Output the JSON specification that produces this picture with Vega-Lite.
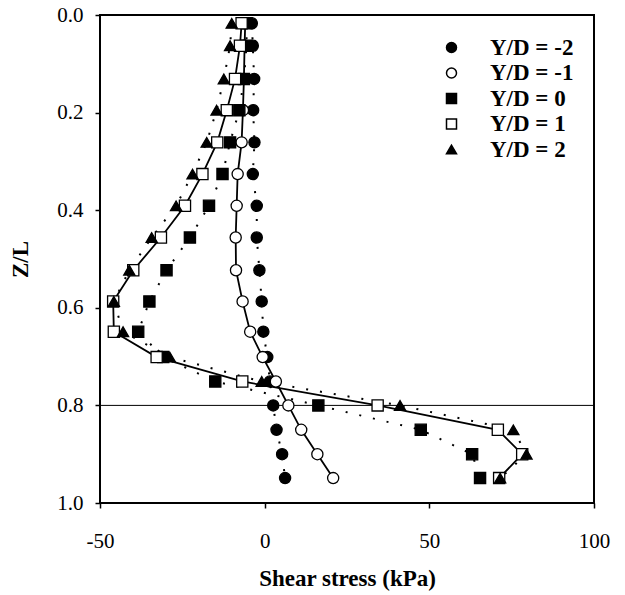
{
  "$schema": "https://vega.github.io/schema/vega-lite/v6.json",
  "width": 494,
  "height": 488,
  "autosize": {"type": "none"},
  "padding": {"left": 100, "top": 15, "right": 31, "bottom": 92},
  "background": "white",
  "config": {
    "view": {"stroke": "#000", "strokeWidth": 2},
    "font": "Liberation Serif",
    "axis": {
      "domain": false,
      "grid": false,
      "labelFlush": false,
      "tickColor": "#000",
      "tickSize": 5,
      "tickWidth": 1.5,
      "labelFont": "Liberation Serif",
      "labelFontSize": 21,
      "labelColor": "#000",
      "titleFont": "Liberation Serif",
      "titleFontSize": 23,
      "titleFontWeight": "bold",
      "titleColor": "#000"
    },
    "legend": {
      "labelFont": "Liberation Serif",
      "labelFontSize": 23,
      "labelFontWeight": "bold",
      "labelColor": "#000"
    }
  },
  "data": {
    "values": [
      {"s": "Y/D = -2", "z": 0.017, "x": -3.9}, {"s": "Y/D = -2", "z": 0.063, "x": -3.6}, {"s": "Y/D = -2", "z": 0.131, "x": -3.2}, {"s": "Y/D = -2", "z": 0.195, "x": -3.5}, {"s": "Y/D = -2", "z": 0.261, "x": -3.1}, {"s": "Y/D = -2", "z": 0.326, "x": -3.6}, {"s": "Y/D = -2", "z": 0.391, "x": -2.4}, {"s": "Y/D = -2", "z": 0.456, "x": -2.4}, {"s": "Y/D = -2", "z": 0.523, "x": -1.6}, {"s": "Y/D = -2", "z": 0.587, "x": -0.9}, {"s": "Y/D = -2", "z": 0.649, "x": -0.4}, {"s": "Y/D = -2", "z": 0.701, "x": 0.8}, {"s": "Y/D = -2", "z": 0.751, "x": 1.6}, {"s": "Y/D = -2", "z": 0.8, "x": 2.6}, {"s": "Y/D = -2", "z": 0.85, "x": 3.6}, {"s": "Y/D = -2", "z": 0.9, "x": 5.3}, {"s": "Y/D = -2", "z": 0.949, "x": 6.2},
      {"s": "Y/D = -1", "z": 0.017, "x": -5.9}, {"s": "Y/D = -1", "z": 0.063, "x": -6.1}, {"s": "Y/D = -1", "z": 0.131, "x": -6.3}, {"s": "Y/D = -1", "z": 0.195, "x": -6.6}, {"s": "Y/D = -1", "z": 0.261, "x": -7.0}, {"s": "Y/D = -1", "z": 0.326, "x": -8.2}, {"s": "Y/D = -1", "z": 0.391, "x": -8.5}, {"s": "Y/D = -1", "z": 0.456, "x": -8.8}, {"s": "Y/D = -1", "z": 0.523, "x": -8.7}, {"s": "Y/D = -1", "z": 0.587, "x": -6.7}, {"s": "Y/D = -1", "z": 0.649, "x": -4.4}, {"s": "Y/D = -1", "z": 0.701, "x": -0.6}, {"s": "Y/D = -1", "z": 0.751, "x": 3.4}, {"s": "Y/D = -1", "z": 0.8, "x": 7.2}, {"s": "Y/D = -1", "z": 0.85, "x": 11.1}, {"s": "Y/D = -1", "z": 0.9, "x": 16.0}, {"s": "Y/D = -1", "z": 0.949, "x": 20.8},
      {"s": "Y/D = 0", "z": 0.017, "x": -5.5}, {"s": "Y/D = 0", "z": 0.063, "x": -5.5}, {"s": "Y/D = 0", "z": 0.131, "x": -6.3}, {"s": "Y/D = 0", "z": 0.195, "x": -7.7}, {"s": "Y/D = 0", "z": 0.261, "x": -10.5}, {"s": "Y/D = 0", "z": 0.326, "x": -12.8}, {"s": "Y/D = 0", "z": 0.391, "x": -16.9}, {"s": "Y/D = 0", "z": 0.456, "x": -22.7}, {"s": "Y/D = 0", "z": 0.523, "x": -29.8}, {"s": "Y/D = 0", "z": 0.587, "x": -35.0}, {"s": "Y/D = 0", "z": 0.649, "x": -38.4}, {"s": "Y/D = 0", "z": 0.701, "x": -30.8}, {"s": "Y/D = 0", "z": 0.751, "x": -15.0}, {"s": "Y/D = 0", "z": 0.8, "x": 16.3}, {"s": "Y/D = 0", "z": 0.85, "x": 47.4}, {"s": "Y/D = 0", "z": 0.9, "x": 63.0}, {"s": "Y/D = 0", "z": 0.949, "x": 65.4},
      {"s": "Y/D = 1", "z": 0.017, "x": -7.0}, {"s": "Y/D = 1", "z": 0.063, "x": -7.5}, {"s": "Y/D = 1", "z": 0.131, "x": -9.0}, {"s": "Y/D = 1", "z": 0.195, "x": -11.5}, {"s": "Y/D = 1", "z": 0.261, "x": -14.4}, {"s": "Y/D = 1", "z": 0.326, "x": -18.9}, {"s": "Y/D = 1", "z": 0.391, "x": -24.2}, {"s": "Y/D = 1", "z": 0.456, "x": -31.5}, {"s": "Y/D = 1", "z": 0.523, "x": -39.9}, {"s": "Y/D = 1", "z": 0.587, "x": -46.0}, {"s": "Y/D = 1", "z": 0.649, "x": -45.8}, {"s": "Y/D = 1", "z": 0.701, "x": -32.8}, {"s": "Y/D = 1", "z": 0.751, "x": -6.8}, {"s": "Y/D = 1", "z": 0.8, "x": 34.3}, {"s": "Y/D = 1", "z": 0.85, "x": 70.8}, {"s": "Y/D = 1", "z": 0.9, "x": 78.2}, {"s": "Y/D = 1", "z": 0.949, "x": 71.2},
      {"s": "Y/D = 2", "z": 0.017, "x": -10.0}, {"s": "Y/D = 2", "z": 0.063, "x": -10.5}, {"s": "Y/D = 2", "z": 0.131, "x": -12.4}, {"s": "Y/D = 2", "z": 0.195, "x": -14.6}, {"s": "Y/D = 2", "z": 0.261, "x": -17.6}, {"s": "Y/D = 2", "z": 0.326, "x": -21.9}, {"s": "Y/D = 2", "z": 0.391, "x": -26.9}, {"s": "Y/D = 2", "z": 0.456, "x": -34.3}, {"s": "Y/D = 2", "z": 0.523, "x": -41.1}, {"s": "Y/D = 2", "z": 0.587, "x": -45.8}, {"s": "Y/D = 2", "z": 0.649, "x": -43.0}, {"s": "Y/D = 2", "z": 0.701, "x": -28.8}, {"s": "Y/D = 2", "z": 0.751, "x": -0.9}, {"s": "Y/D = 2", "z": 0.8, "x": 41.1}, {"s": "Y/D = 2", "z": 0.85, "x": 75.5}, {"s": "Y/D = 2", "z": 0.9, "x": 79.5}, {"s": "Y/D = 2", "z": 0.949, "x": 71.5}
    ]
  },
  "layer": [
    {
      "mark": {"type": "rule", "color": "#000", "strokeWidth": 1},
      "data": {"values": [{"z": 0.8}]},
      "encoding": {
        "y": {"field": "z", "type": "quantitative", "scale": {"domain": [0, 1], "reverse": true, "nice": false}}
      }
    },
    {
      "transform": [{"filter": "datum.s == 'Y/D = -2' || datum.s == 'Y/D = 0' || datum.s == 'Y/D = 2'"}],
      "mark": {"type": "line", "color": "#000", "strokeWidth": 2, "strokeDash": [2, 12]},
      "encoding": {
        "x": {"field": "x", "type": "quantitative"},
        "y": {"field": "z", "type": "quantitative"},
        "order": {"field": "z", "type": "quantitative"},
        "detail": {"field": "s", "type": "nominal"}
      }
    },
    {
      "transform": [{"filter": "datum.s == 'Y/D = -1' || datum.s == 'Y/D = 1'"}],
      "mark": {"type": "line", "color": "#000", "strokeWidth": 1.8},
      "encoding": {
        "x": {"field": "x", "type": "quantitative"},
        "y": {"field": "z", "type": "quantitative"},
        "order": {"field": "z", "type": "quantitative"},
        "detail": {"field": "s", "type": "nominal"}
      }
    },
    {
      "mark": {"type": "point", "filled": false, "stroke": "#000", "strokeWidth": 1.3, "size": 125, "opacity": 1},
      "encoding": {
        "x": {
          "field": "x", "type": "quantitative",
          "title": "Shear stress (kPa)",
          "scale": {"domain": [-50, 100], "nice": false, "zero": false},
          "axis": {"values": [-50, 0, 50, 100], "labelExpr": "'' + datum.value", "labelPadding": 22, "titlePadding": 16}
        },
        "y": {
          "field": "z", "type": "quantitative",
          "title": "Z/L",
          "scale": {"domain": [0, 1], "reverse": true, "nice": false},
          "axis": {"values": [0, 0.2, 0.4, 0.6, 0.8, 1.0], "format": ".1f", "labelPadding": 12, "titlePadding": 24}
        },
        "shape": {
          "field": "s", "type": "nominal",
          "scale": {"domain": ["Y/D = -2", "Y/D = -1", "Y/D = 0", "Y/D = 1", "Y/D = 2"], "range": ["circle", "circle", "square", "square", "triangle-up"]},
          "legend": {
            "title": null, "orient": "none", "legendX": 340, "legendY": 21, "symbolSize": 100, "rowPadding": 1.5, "labelOffset": 27,
            "encode": {"symbols": {
              "stroke": {"value": "#000"},
              "strokeWidth": {"value": 1.2},
              "opacity": {"value": 1}
            }}
          }
        },
        "fill": {
          "field": "s", "type": "nominal",
          "scale": {"domain": ["Y/D = -2", "Y/D = -1", "Y/D = 0", "Y/D = 1", "Y/D = 2"], "range": ["#000", "#fff", "#000", "#fff", "#000"]},
          "legend": {
            "title": null, "orient": "none", "legendX": 340, "legendY": 21, "symbolSize": 100, "rowPadding": 1.5, "labelOffset": 27,
            "encode": {"symbols": {
              "stroke": {"value": "#000"},
              "strokeWidth": {"value": 1.2},
              "opacity": {"value": 1}
            }}
          }
        }
      }
    }
  ]
}
